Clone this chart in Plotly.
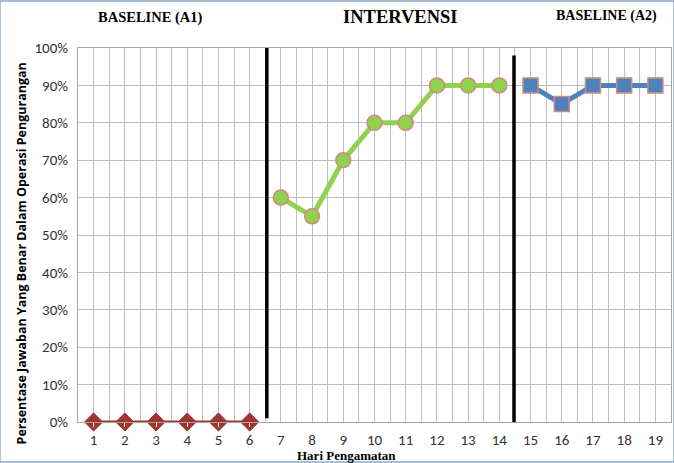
import plotly.graph_objects as go

days_a1 = [1, 2, 3, 4, 5, 6]
vals_a1 = [0, 0, 0, 0, 0, 0]
days_b = [7, 8, 9, 10, 11, 12, 13, 14]
vals_b = [0.60, 0.55, 0.70, 0.80, 0.80, 0.90, 0.90, 0.90]
days_a2 = [15, 16, 17, 18, 19]
vals_a2 = [0.90, 0.85, 0.90, 0.90, 0.90]
x_ticks = list(range(1, 20))
phase_lines = [6.55, 14.47]

fig = go.Figure()
fig.add_trace(go.Scatter(x=days_a1, y=vals_a1, mode="lines+markers", cliponaxis=False,
    line=dict(color="#A0352F", width=3),
    marker=dict(symbol="diamond", size=14, color="#A0352F", line=dict(color="#A0352F", width=1))))
fig.add_trace(go.Scatter(x=days_b, y=vals_b, mode="lines+markers", cliponaxis=False,
    line=dict(color="#92D050", width=5),
    marker=dict(symbol="circle", size=15, color="#92D050", line=dict(color="#D08A80", width=1.5))))
fig.add_trace(go.Scatter(x=days_a2, y=vals_a2, mode="lines+markers", cliponaxis=False,
    line=dict(color="#4F81BD", width=5),
    marker=dict(symbol="square", size=15, color="#4F81BD", line=dict(color="#D08A80", width=1.5))))

fig.add_shape(type="line", xref="x", yref="y", x0=phase_lines[0], x1=phase_lines[0], y0=0.01, y1=1.0,
              line=dict(color="black", width=3.5))
fig.add_shape(type="line", xref="x", yref="y", x0=phase_lines[1], x1=phase_lines[1], y0=0.0, y1=0.98,
              line=dict(color="black", width=3.5))
fig.add_shape(type="rect", xref="paper", yref="paper", x0=-78/592.6, x1=1+3/592.6, y0=-40/374, y1=1+47/374,
              line=dict(color="#8EA9C8", width=1.5), layer="below")

serif = "Liberation Serif, Times New Roman, serif"
def ann(text, px, py, size):
    fig.add_annotation(text=text, x=(px - 78) / 592.6, y=(422 - py) / 374, xref="paper", yref="paper",
                       showarrow=False, font=dict(family=serif, size=size, color="black"),
                       xanchor="center", yanchor="middle")
ann("<b>BASELINE (A1)</b>", 150, 18, 14.5)
ann("<b>INTERVENSI</b>", 400, 17, 18.5)
ann("<b>BASELINE (A2)</b>", 606, 16, 14)
ann("<b>Hari Pengamatan</b>", 346, 456, 13)
fig.add_annotation(text="<b>Persentase Jawaban Yang Benar Dalam Operasi Pengurangan</b>",
                   x=(11 - 78) / 592.6, y=(422 - 253) / 374, xref="paper", yref="paper", showarrow=False,
                   textangle=-90, font=dict(family="Open Sans, sans-serif", size=12.5, color="black"))

fig.update_layout(
    width=674, height=463, margin=dict(l=78, r=3, t=48, b=41),
    paper_bgcolor="white", plot_bgcolor="white", showlegend=False,
    font=dict(family="Carlito, Lato, sans-serif", size=15, color="#333"),
    xaxis=dict(range=[0.5, 19.5], tickvals=x_ticks, ticktext=[str(v) for v in x_ticks],
               showgrid=True, gridcolor="#BFBFBF", gridwidth=1,
               minor=dict(tick0=0.5, dtick=1, showgrid=True, gridcolor="#BFBFBF", gridwidth=1),
               showline=True, linecolor="#A6A6A6", mirror=True, zeroline=False,
               ticks="outside", ticklen=4, tickcolor="white"),
    yaxis=dict(range=[0, 1], dtick=0.1, tickformat=".0%", showgrid=True, gridcolor="#BFBFBF",
               showline=True, linecolor="#A6A6A6", mirror=True, zeroline=False, ticks="outside", ticklen=6,
               tickcolor="white"),
)
fig.write_html("out.html")
